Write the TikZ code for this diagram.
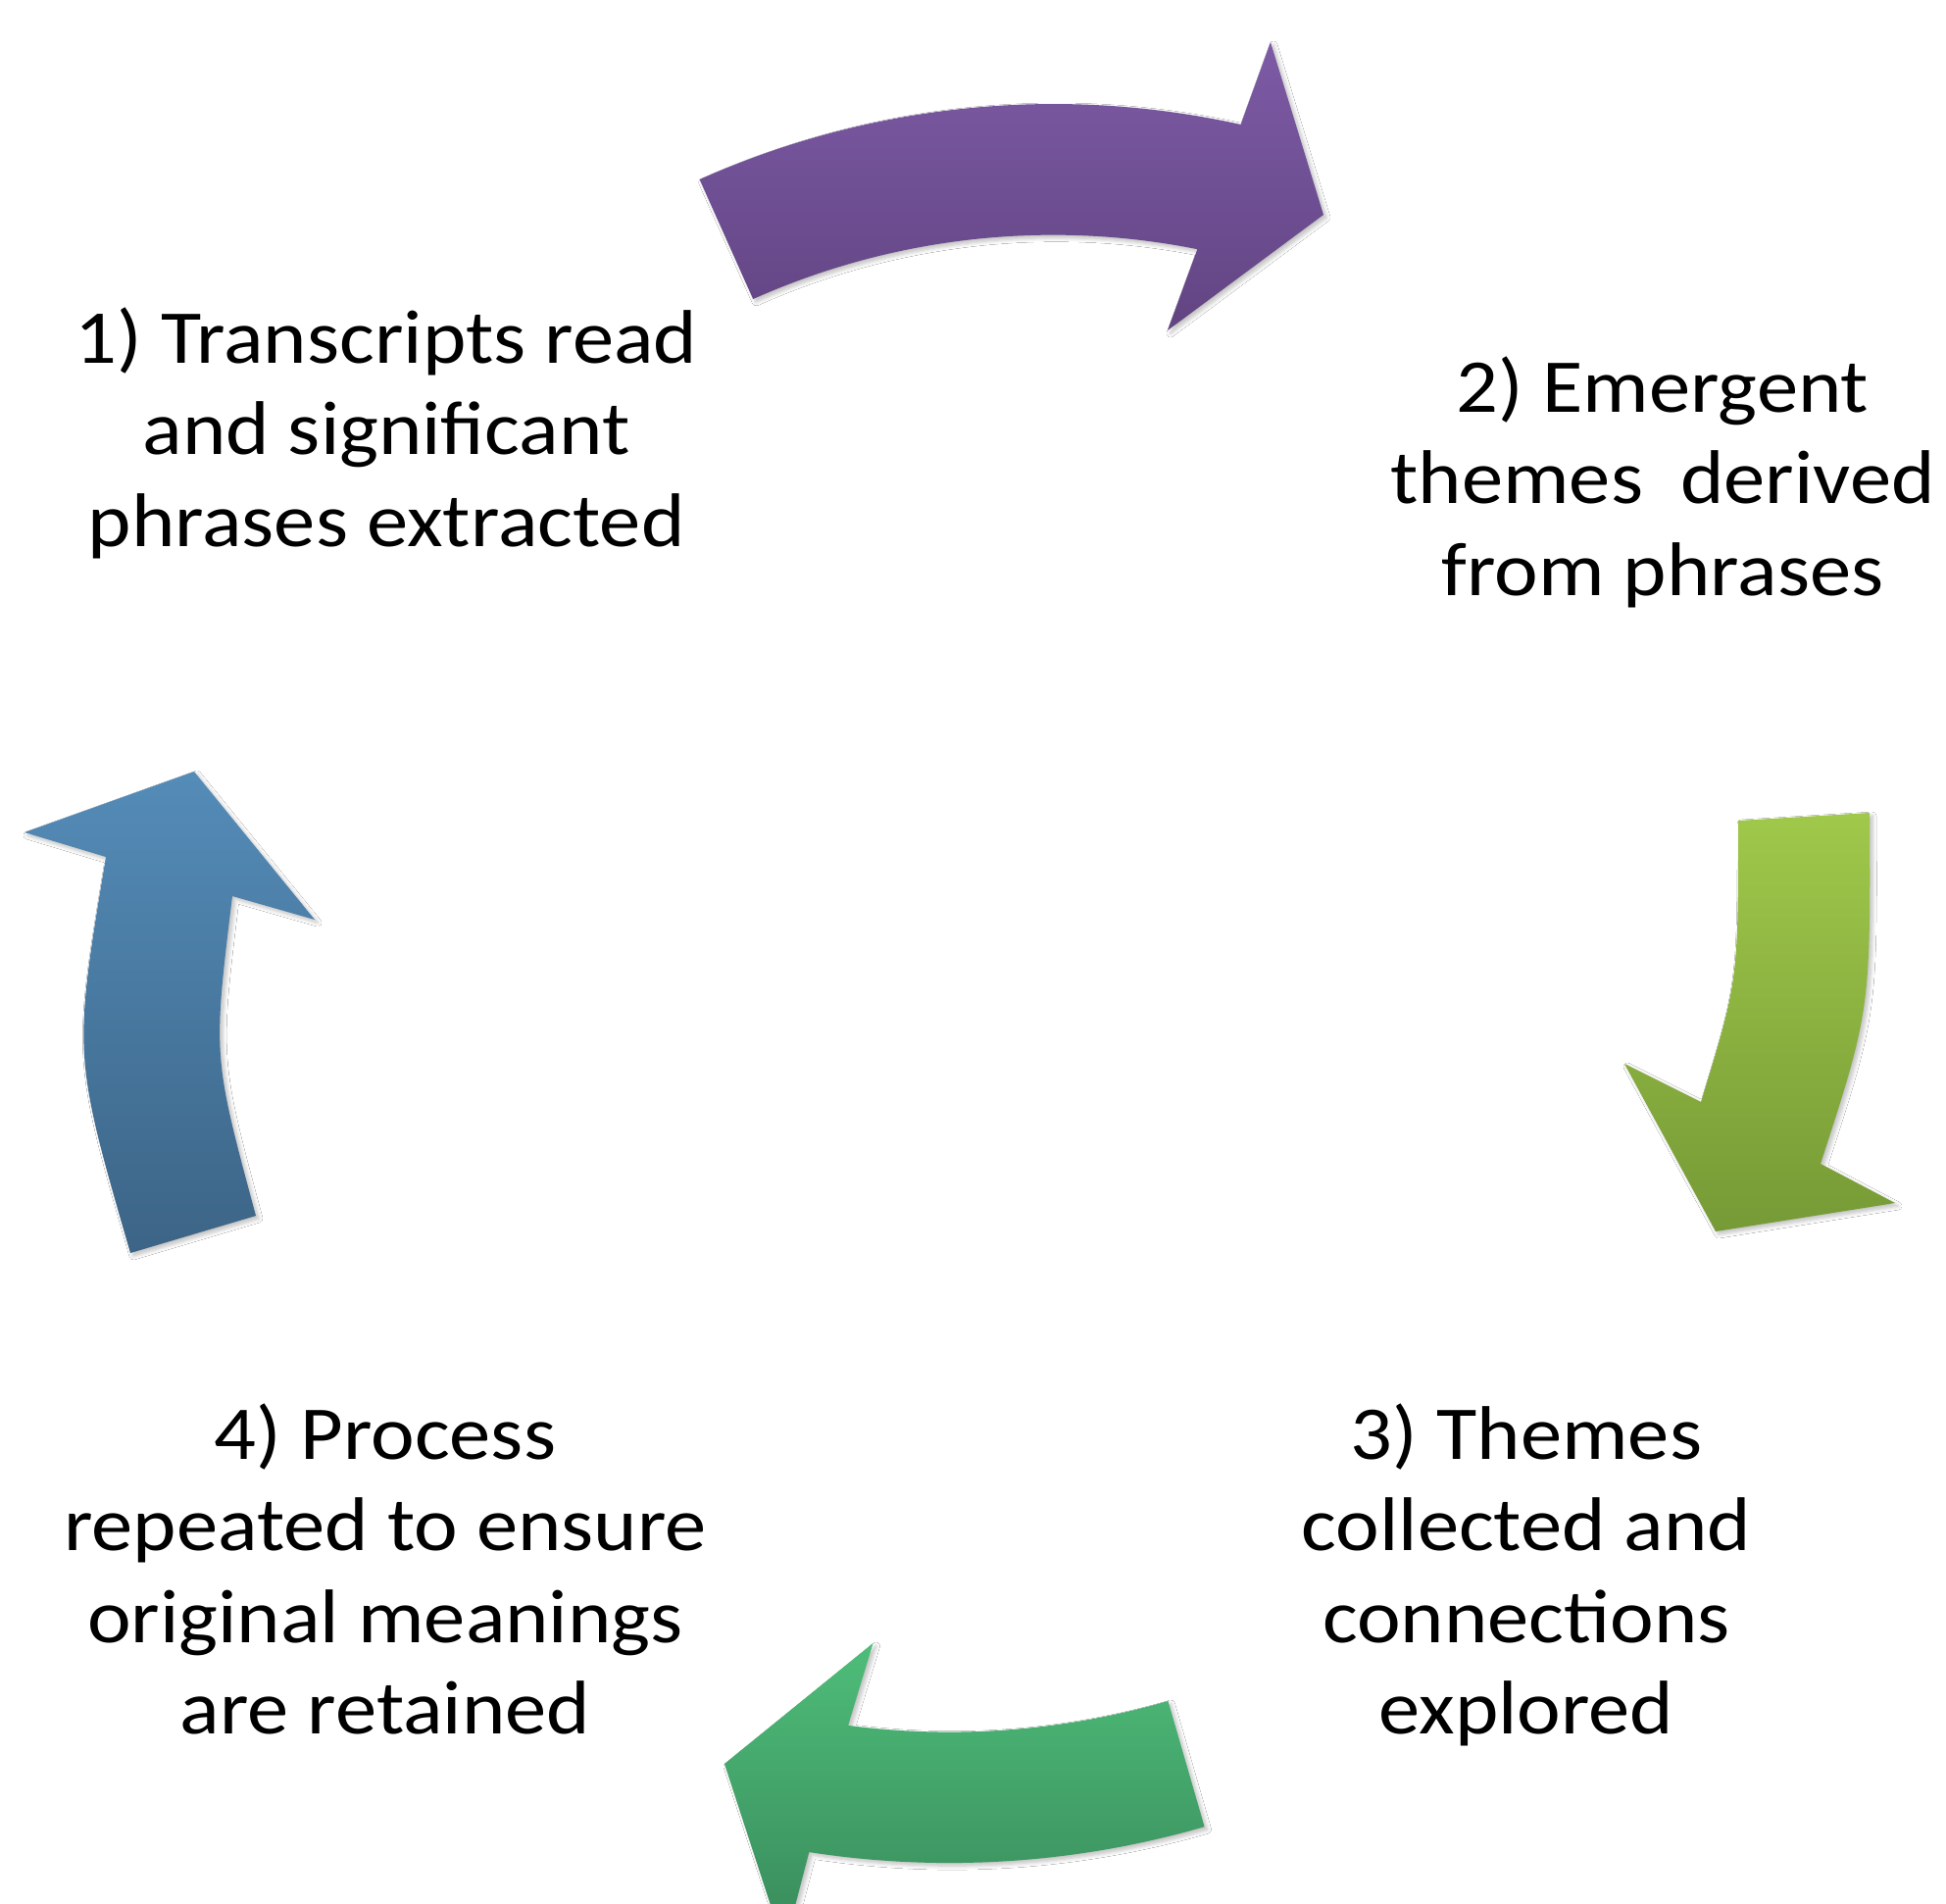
\documentclass[tikz,border=0pt]{standalone}
\usepackage{fontspec}
\setmainfont{Carlito}
\usetikzlibrary{shadows.blur}
\definecolor{purpleTop}{HTML}{7D5BA6}
\definecolor{purpleBot}{HTML}{624482}
\definecolor{limeTop}{HTML}{A0C84A}
\definecolor{limeBot}{HTML}{769A36}
\definecolor{jadeTop}{HTML}{4EBD79}
\definecolor{jadeBot}{HTML}{38895A}
\definecolor{steelTop}{HTML}{548CB8}
\definecolor{steelBot}{HTML}{3C6486}
\tikzset{
  bentarrow/.style={blur shadow={shadow xshift=1.5pt, shadow yshift=-1.5pt,
      shadow blur radius=2pt, shadow blur steps=6, shadow opacity=25}},
  steptext/.style={anchor=base, inner sep=0pt, text=black,
      font=\fontsize{38.8pt}{46.75pt}\selectfont}
}
\newcommand{\steplines}[1]{\scalebox{1.09}[1]{\begin{tabular}[t]{@{}c@{}}#1\end{tabular}}}
\begin{document}
\begin{tikzpicture}[x=0.5pt, y=-0.5pt]
  \useasboundingbox (0,0) rectangle (1985,1942);
  \clip (0,0) rectangle (1985,1942);
  \fill[white] (0,0) rectangle (1985,1942);

  % step 1 -> 2 : band between two concentric arcs, then the head
  \shade[bentarrow, top color=purpleTop, bottom color=purpleBot]
    plot[domain=-114.1:-77.5, samples=40, smooth]
      ({1074.4+883.6*cos(\x)}, {989.6+883.6*sin(\x)})
    -- (1296,43) -- (1350,219) -- (1191,337)
    -- plot[domain=-78.7:-114.1, samples=40, smooth]
      ({1074.4+750*cos(\x)}, {989.6+750*sin(\x)})
    -- cycle;

  % step 2 -> 3
  \shade[bentarrow, top color=limeTop, bottom color=limeBot]
    (1773,837) -- (1907,829) .. controls (1908,1030) .. (1857,1187)
    -- (1933,1227) -- (1750,1256) -- (1657,1085) -- (1735,1124)
    .. controls (1773,1000) .. (1773,837) -- cycle;

  % step 3 -> 4
  \shade[bentarrow, top color=jadeTop, bottom color=jadeBot]
    plot[domain=73.85:98.8, samples=40, smooth]
      ({968.4+935.5*cos(\x)}, {964.6+935.5*sin(\x)})
    -- (800,1986) -- (739,1799) -- (890.5,1676)
    -- plot[domain=97.4:73.85, samples=40, smooth]
      ({968.4+802*cos(\x)}, {964.6+802*sin(\x)})
    -- cycle;

  % step 4 -> 1
  \shade[bentarrow, top color=steelTop, bottom color=steelBot]
    (133,1278) -- (261,1240) .. controls (217,1077) .. (237,914)
    -- (321,938) -- (198,787) -- (25,849) -- (108,874)
    .. controls (74.5,1076) .. (133,1278) -- cycle;

  % step labels
  \node[steptext] (t1) at (394,370)
    {\steplines{1) Transcripts read\\ and significant\\ phrases extracted}};
  \node[steptext] (t2) at (1696,420)
    {\steplines{2) Emergent\\ themes\ \ derived\\ from phrases}};
  \node[steptext] (t3) at (1557,1488)
    {\steplines{3) Themes\\ collected and\\ connections\\ explored}};
  \node[steptext] (t4) at (393,1488)
    {\steplines{4) Process\\ repeated to ensure\\ original meanings\\ are retained}};
\end{tikzpicture}
\end{document}
